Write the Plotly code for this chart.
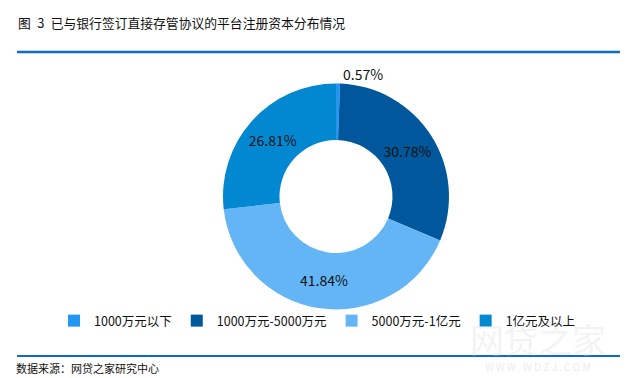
import plotly.graph_objects as go

categories = ["1000万元以下", "1000万元-5000万元", "5000万元-1亿元", "1亿元及以上"]
shares = [0.57, 30.78, 41.84, 26.81]
colors = ["#2196F3", "#01579B", "#64B5F6", "#0288D1"]
title_text = "图\u20023\u2002已与银行签订直接存管协议的平台注册资本分布情况"
source_text = "数据来源：网贷之家研究中心"

W, H = 628, 378
FONT = "Noto Sans CJK SC, Microsoft YaHei, sans-serif"

fig = go.Figure()
fig.add_trace(go.Pie(
    labels=categories,
    values=shares,
    sort=False,
    direction="clockwise",
    rotation=0,
    hole=0.5,
    marker=dict(colors=colors, line=dict(width=0)),
    texttemplate="%{value:.2f}%",
    textposition=["outside", "inside", "inside", "inside"],
    insidetextorientation="horizontal",
    textfont=dict(family=FONT, size=14, color="#111111"),
    insidetextfont=dict(family=FONT, size=14, color="#111111"),
    outsidetextfont=dict(family=FONT, size=14, color="#111111"),
    domain=dict(x=[215 / W, 441 / W], y=[(H - 302) / H, (H - 75) / H]),
    hoverinfo="label+percent",
))

fig.update_layout(
    width=W, height=H,
    margin=dict(l=0, r=0, t=0, b=0),
    paper_bgcolor="white",
    plot_bgcolor="white",
    showlegend=True,
    legend=dict(
        orientation="h",
        x=46 / W, xanchor="left",
        y=(H - 313) / H, yanchor="middle",
        font=dict(family=FONT, size=12.5, color="#111111"),
        itemwidth=30,
        tracegroupgap=0,
        traceorder="normal",
        bgcolor="rgba(0,0,0,0)",
    ),
    font=dict(family=FONT),
)

# header and footer rules
fig.add_shape(type="line", xref="paper", yref="paper",
              x0=9 / W, x1=621 / W, y0=(H - 44) / H, y1=(H - 44) / H,
              line=dict(color="#1069CC", width=2.5))
fig.add_shape(type="line", xref="paper", yref="paper",
              x0=9 / W, x1=621 / W, y0=(H - 348) / H, y1=(H - 348) / H,
              line=dict(color="#1069CC", width=2))

fig.add_annotation(text=title_text, xref="paper", yref="paper",
                   x=8 / W, y=(H - 14) / H, xanchor="left", yanchor="middle",
                   showarrow=False, font=dict(family=FONT, size=12.8, color="#111111"))
fig.add_annotation(text=source_text, xref="paper", yref="paper",
                   x=6 / W, y=(H - 360) / H, xanchor="left", yanchor="middle",
                   showarrow=False, font=dict(family=FONT, size=11, color="#111111"))

# faint watermark
fig.add_annotation(text="网贷之家", xref="paper", yref="paper",
                   x=530 / W, y=(H - 330) / H, xanchor="center", yanchor="middle",
                   showarrow=False, font=dict(family=FONT, size=34, color="rgba(215,215,215,0.3)"))
fig.add_annotation(text="W W W . W D Z J . C O M", xref="paper", yref="paper",
                   x=530 / W, y=(H - 358) / H, xanchor="center", yanchor="middle",
                   showarrow=False, font=dict(family=FONT, size=10, color="rgba(210,210,210,0.45)"))

fig.write_html("out.html")
